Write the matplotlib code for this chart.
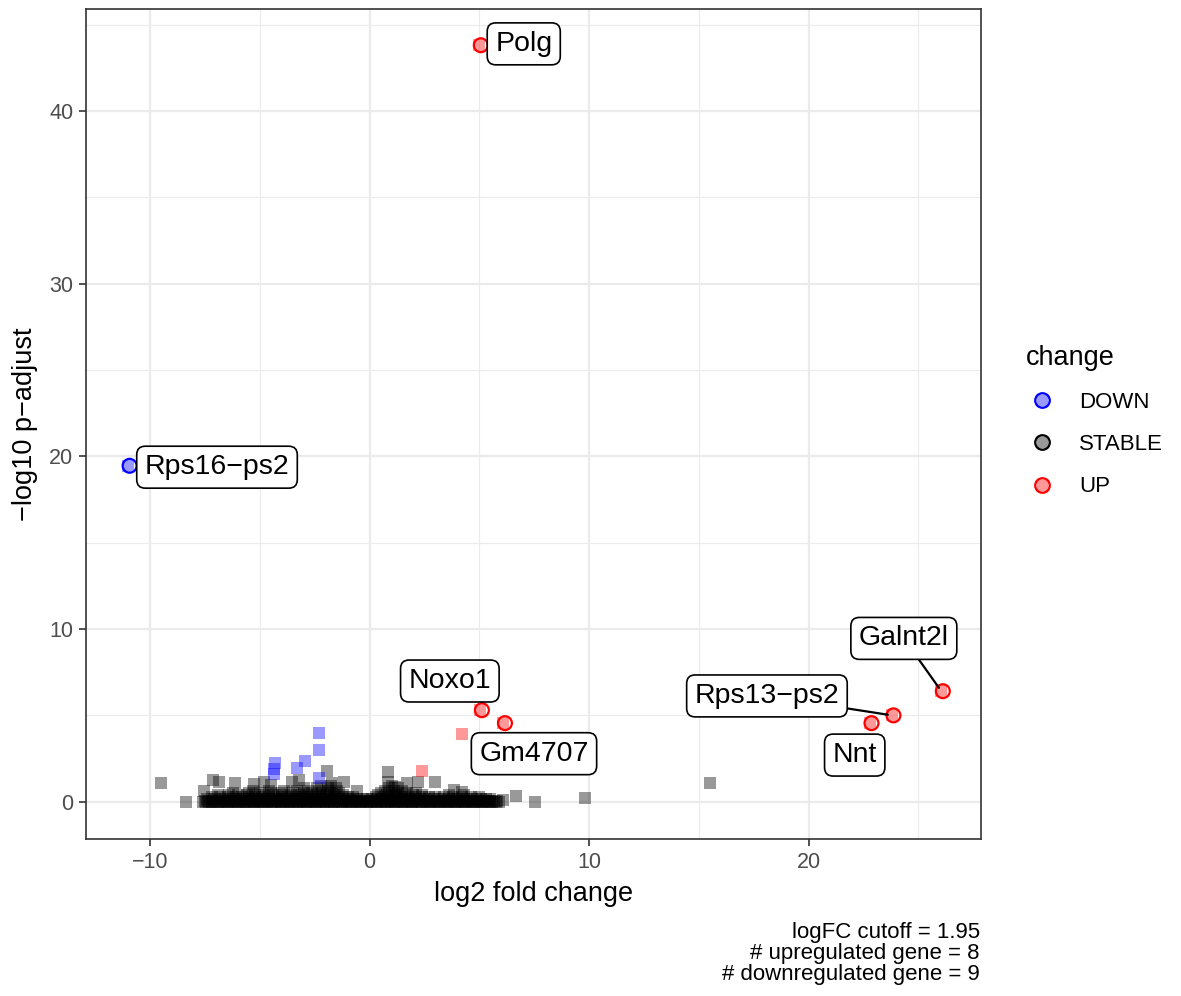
import matplotlib.pyplot as plt
import matplotlib.transforms as mtransforms
from matplotlib.lines import Line2D
from matplotlib.legend_handler import HandlerTuple

plt.rcParams['font.family'] = ['Liberation Sans', 'DejaVu Sans']

# labelled genes (log2 fold change, -log10 p-adjust)
label_genes = ['Polg', 'Rps16\u2212ps2', 'Noxo1', 'Gm4707', 'Galnt2l', 'Rps13\u2212ps2', 'Nnt']
label_fc = [5.0, -11.0, 5.05, 6.1, 26.05, 23.8, 22.8]
label_padj = [43.8, 19.45, 5.3, 4.55, 6.4, 5.0, 4.55]
label_change = ['UP', 'DOWN', 'UP', 'UP', 'UP', 'UP', 'UP']

# significant genes
up_fc = [5.0, 5.05, 6.1, 26.05, 23.8, 22.8, 4.2, 2.4]
up_padj = [43.8, 5.3, 4.55, 6.4, 5.0, 4.55, 3.9, 1.75]
down_fc = [-11.0, -2.3, -2.3, -2.95, -3.3, -4.3, -4.35, -4.35, -2.3]
down_padj = [19.45, 4.0, 3.0, 2.35, 1.95, 2.25, 1.9, 1.6, 1.35]

# stable genes that stand out of the main band
stable_fc_out = [-9.5, -8.35, -7.15, -6.85, -7.55, -6.15, -5.25, -4.8, -4.5, -3.55,
                 -3.2, -1.95, -1.7, -1.15, -0.55, 0.85, 0.85, 1.15, 1.7, 2.2,
                 3.0, 3.85, 4.2, 6.1, 6.65, 7.55, 9.8, 15.5]
stable_padj_out = [1.1, 0.0, 1.25, 1.15, 0.62, 1.08, 1.05, 1.15, 0.97, 1.15,
                   1.25, 1.75, 1.08, 1.15, 0.6, 1.72, 1.15, 0.85, 1.1, 1.15,
                   1.15, 0.68, 0.56, 0.1, 0.35, 0.0, 0.22, 1.1]

# stable genes in the dense band near zero, one list per -log10 p-adjust level
band_padj = [0.0, 0.07, 0.15, 0.26, 0.38, 0.5, 0.64, 0.8, 0.92]
band_fc_0 = [-7.6, -7.45, -7.3, -7.2, -7.05, -6.9, -6.8, -6.65, -6.5, -6.4, -6.25, -6.1,
             -6.0, -5.85, -5.7, -5.6, -5.45, -5.3, -5.2, -5.05, -4.9, -4.8, -4.65, -4.5,
             -4.4, -4.25, -4.1, -4.0, -3.85, -3.7, -3.6, -3.45, -3.3, -3.2, -3.05, -2.9,
             -2.8, -2.65, -2.5, -2.4, -2.25, -2.1, -2.0, -1.85, -1.7, -1.6, -1.45, -1.3,
             -1.2, -1.05, -0.9, -0.8, -0.65, -0.5, -0.4, -0.25, -0.1, 0.0, 0.15, 0.3,
             0.4, 0.55, 0.7, 0.8, 0.95, 1.1, 1.2, 1.35, 1.5, 1.6, 1.75, 1.9,
             2.0, 2.15, 2.3, 2.4, 2.55, 2.7, 2.8, 2.95, 3.1, 3.2, 3.35, 3.5,
             3.6, 3.75, 3.9, 4.0, 4.15, 4.3, 4.4, 4.55, 4.7, 4.8, 4.95, 5.1,
             5.2, 5.35, 5.5, 5.6, 5.75, 5.9]
band_fc_1 = [-7.5, -7.35, -7.15, -6.95, -6.75, -6.55, -6.35, -6.2, -6.05, -5.9, -5.75, -5.55,
             -5.4, -5.25, -5.1, -4.95, -4.75, -4.6, -4.45, -4.3, -4.15, -3.95, -3.8, -3.65,
             -3.5, -3.35, -3.15, -3.0, -2.85, -2.7, -2.55, -2.35, -2.2, -2.05, -1.9, -1.75,
             -1.55, -1.4, -1.25, -1.1, -0.95, -0.75, -0.6, -0.45, -0.3, -0.15, 0.05, 0.2,
             0.35, 0.5, 0.65, 0.85, 1.0, 1.15, 1.3, 1.45, 1.65, 1.8, 1.95, 2.1,
             2.25, 2.45, 2.6, 2.75, 2.9, 3.05, 3.25, 3.4, 3.55, 3.7, 3.85, 4.05,
             4.2, 4.35, 4.5, 4.65, 4.85, 5.0, 5.15, 5.3, 5.45, 5.65, 5.8]
band_fc_2 = [-7.4, -7.1, -6.85, -6.6, -6.35, -6.15, -5.95, -5.7, -5.5, -5.3, -5.1, -4.85,
             -4.65, -4.45, -4.2, -4.0, -3.8, -3.55, -3.35, -3.15, -2.9, -2.7, -2.5, -2.25,
             -2.05, -1.85, -1.6, -1.4, -1.2, -0.95, -0.75, -0.55, -0.3, -0.1, 0.1, 0.35,
             0.55, 0.75, 1.0, 1.2, 1.4, 1.65, 1.85, 2.05, 2.3, 2.5, 2.7, 2.95,
             3.15, 3.35, 3.6, 3.8, 4.0, 4.25, 4.45, 4.65, 4.9, 5.1, 5.3, 5.5]
band_fc_3 = [-7.2, -6.8, -6.45, -6.1, -5.8, -5.5, -5.2, -4.9, -4.6, -4.3, -4.0, -3.7,
             -3.4, -3.1, -2.8, -2.5, -2.2, -1.9, -1.6, -1.3, -1.0, -0.75, 0.3, 0.6,
             0.9, 1.2, 1.5, 1.8, 2.1, 2.4, 2.7, 3.0, 3.4, 3.8, 4.2, 4.6, 5.0]
band_fc_4 = [-6.9, -6.4, -6.0, -5.6, -5.2, -4.8, -4.4, -4.0, -3.6, -3.2, -2.8, -2.4,
             -2.0, -1.6, -1.2, 0.4, 0.8, 1.2, 1.6, 2.0, 2.4, 3.6, 4.3]
band_fc_5 = [-6.2, -5.5, -5.0, -4.5, -4.0, -3.5, -3.0, -2.6, -2.2, -1.8, -1.4, 0.5,
             0.9, 1.3, 1.7, 2.1]
band_fc_6 = [-5.3, -4.6, -3.9, -3.3, -2.8, -2.3, -1.9, -1.5, 0.7, 1.1, 1.5]
band_fc_7 = [-3.0, -2.4, -1.9, -1.55, 0.9, 1.3]
band_fc_8 = [-2.2, -1.75, 1.0]

stable_fc = list(stable_fc_out)
stable_padj = list(stable_padj_out)
for level, xs in zip(band_padj, [band_fc_0, band_fc_1, band_fc_2, band_fc_3,
                                 band_fc_4, band_fc_5, band_fc_6, band_fc_7, band_fc_8]):
    stable_fc += xs
    stable_padj += [level] * len(xs)

change_colors = {'DOWN': '#0000FF', 'STABLE': '#000000', 'UP': '#FF0000'}
caption = 'logFC cutoff = 1.95\n# upregulated gene = 8\n# downregulated gene = 9'

fig = plt.figure(figsize=(11.81, 9.96), dpi=100)
ax = fig.add_axes([0.0728, 0.1576, 0.7579, 0.8334])

pt_size = 68
ax.scatter(stable_fc, stable_padj, s=pt_size, marker='s', color=change_colors['STABLE'],
           alpha=0.4, linewidths=0, zorder=3)
ax.scatter(down_fc, down_padj, s=pt_size, marker='s', color=change_colors['DOWN'],
           alpha=0.4, linewidths=0, zorder=3)
ax.scatter(up_fc, up_padj, s=pt_size, marker='s', color=change_colors['UP'],
           alpha=0.4, linewidths=0, zorder=3)

# rings around the labelled genes, nudged a little to the right like the original render
ring_shift = ax.transData + mtransforms.ScaledTranslation(1.5 / 100, 0, fig.dpi_scale_trans)
ring_colors = [change_colors[c] for c in label_change]
ax.scatter(label_fc, label_padj, s=100, facecolors='none', edgecolors=ring_colors,
           linewidths=1.6, zorder=2, transform=ring_shift)

# labels, offsets in points from the gene
label_offsets = [(32, 1), (64, -1), (-22, 21), (22, -22), (-27, 38), (-90, 14), (-11, -23)]
label_segment = [False, False, False, False, True, True, False]
for name, x, y, off, seg in zip(label_genes, label_fc, label_padj, label_offsets, label_segment):
    arrow = dict(arrowstyle='-', color='black', lw=1.6, shrinkA=0, shrinkB=3) if seg else None
    ax.annotate(name, (x, y), xytext=off, textcoords='offset points', ha='center', va='center',
                fontsize=20.5, zorder=5,
                bbox=dict(boxstyle='round,pad=0.28,rounding_size=0.3', fc='white', ec='black', lw=1.2),
                arrowprops=arrow)

ax.set_xlim(-12.92, 27.86)
ax.set_ylim(-2.16, 45.9)
ax.set_xticks([-10, 0, 10, 20])
ax.set_xticklabels(['\u221210', '0', '10', '20'])
ax.set_yticks([0, 10, 20, 30, 40])
ax.set_xticks([-5, 5, 15, 25], minor=True)
ax.set_yticks([5, 15, 25, 35, 45], minor=True)
ax.grid(True, which='major', color='#EBEBEB', lw=1.6, zorder=0)
ax.grid(True, which='minor', color='#EBEBEB', lw=0.8, zorder=0)
ax.set_axisbelow(True)
ax.tick_params(which='major', length=5, width=1.2, color='#333333', labelsize=15.5,
               labelcolor='#4D4D4D', pad=4)
ax.tick_params(which='minor', length=0)
for sp in ax.spines.values():
    sp.set_color('#333333')
    sp.set_linewidth(1.2)

ax.set_xlabel('log2 fold change', fontsize=19.5, labelpad=6)
ax.set_ylabel('\u2212log10 p\u2212adjust', fontsize=19.5, labelpad=8)

# legend: filled square over a ring
handles = []
for key in ['DOWN', 'STABLE', 'UP']:
    ring = Line2D([], [], ls='none', marker='o', ms=10.5, mfc='none', mec=change_colors[key], mew=1.6)
    fill = Line2D([], [], ls='none', marker='s', ms=8, mfc=change_colors[key], mec='none', alpha=0.4)
    handles.append((ring, fill))
leg = fig.legend(handles, ['DOWN', 'STABLE', 'UP'], title='change', loc='upper left',
                 bbox_to_anchor=(1006 / 1181, 1 - 325 / 996), frameon=False, fontsize=16,
                 title_fontsize=19.5, handler_map={tuple: HandlerTuple(ndivide=1, pad=0)},
                 labelspacing=0.95, handletextpad=1.0, handlelength=1.4)
leg._legend_box.align = 'left'

fig.text(980 / 1181, 1 - 922 / 996, caption, ha='right', va='top', fontsize=16,
         multialignment='right', linespacing=1.0)

fig.savefig('out.png', dpi=100)
